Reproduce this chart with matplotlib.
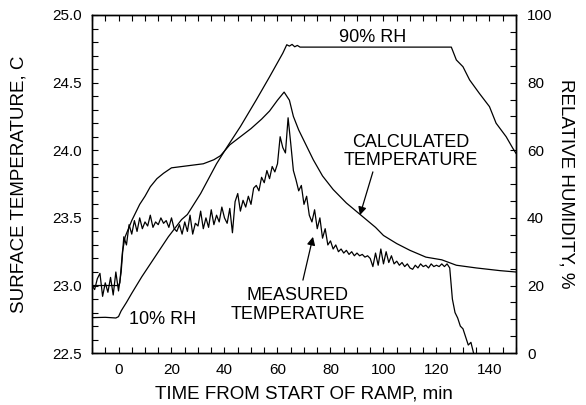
import numpy as np
import matplotlib
matplotlib.use('Agg')
import matplotlib.pyplot as plt
from matplotlib.ticker import MultipleLocator, FormatStrFormatter

plt.rcParams['font.family'] = ['Liberation Sans', 'DejaVu Sans']

# measured surface temperature, 1 min samples from -10 to 135 min
t_meas = np.arange(-10, 136)
T_meas = [23.00, 22.97, 23.05, 23.09, 22.92, 23.02, 22.95, 23.06, 22.93, 23.10, 22.96,
          23.10, 23.36, 23.30, 23.45, 23.38, 23.48, 23.40, 23.50, 23.42, 23.47,
          23.44, 23.52, 23.43, 23.47, 23.45, 23.50, 23.46, 23.48, 23.43, 23.50,
          23.42, 23.40, 23.45, 23.38, 23.47, 23.40, 23.52, 23.38, 23.46, 23.44,
          23.55, 23.42, 23.50, 23.43, 23.56, 23.45, 23.52, 23.47, 23.58, 23.50,
          23.46, 23.57, 23.39, 23.62, 23.68, 23.55, 23.63, 23.58, 23.66, 23.60,
          23.72, 23.74, 23.70, 23.80, 23.76, 23.85, 23.79, 23.88, 23.84, 23.90,
          24.10, 24.02, 23.98, 24.24, 24.05, 23.85, 23.78, 23.70, 23.74, 23.60,
          23.66, 23.52, 23.47, 23.56, 23.42, 23.50, 23.35, 23.42, 23.30, 23.33,
          23.27, 23.30, 23.25, 23.27, 23.24, 23.26, 23.23, 23.25, 23.22, 23.24,
          23.22, 23.23, 23.21, 23.22, 23.20, 23.14, 23.24, 23.15, 23.27, 23.16,
          23.25, 23.17, 23.22, 23.16, 23.18, 23.15, 23.17, 23.14, 23.16, 23.13,
          23.12, 23.15, 23.13, 23.16, 23.14, 23.15, 23.13, 23.16, 23.14, 23.15,
          23.14, 23.16, 23.14, 23.16, 23.13, 22.90, 22.80, 22.76, 22.70, 22.68,
          22.62, 22.56, 22.58, 22.50, 22.45]

# calculated surface temperature
t_calc = [-10, 0, 0.5, 1.5, 2.5, 5, 8, 10, 12, 14.5, 17, 20, 24, 28, 32, 36, 38.5,
          42, 46, 50, 54, 57, 60, 62.5, 64.5, 66, 68, 70, 73.5, 77, 81, 86, 91.5,
          97, 100, 105, 110, 116, 122, 127.5, 135, 144, 150]
T_calc = [23.00, 23.00, 23.02, 23.25, 23.36, 23.48, 23.60, 23.66, 23.73, 23.79,
          23.83, 23.87, 23.88, 23.89, 23.90, 23.93, 23.96, 24.04, 24.10, 24.16,
          24.23, 24.29, 24.37, 24.43, 24.37, 24.25, 24.15, 24.07, 23.93, 23.81,
          23.71, 23.61, 23.52, 23.43, 23.37, 23.31, 23.26, 23.21, 23.19, 23.15,
          23.13, 23.11, 23.10]

# relative humidity, %
t_rh = [-10, -5, -1, 0, 1, 3, 5, 8.8, 13.8, 18.8, 23.8, 26, 31, 37, 41, 46, 52, 57,
        62, 63.5, 64.5, 65.5, 66.5, 67.5, 68.5, 125.6, 127.5, 130, 132.5, 136.2,
        140, 142.5, 146.3, 148.8, 150]
rh = [10.5, 10.6, 10.4, 10.8, 12.5, 15.0, 17.7, 22.6, 28.5, 34.4, 39.5, 41.0, 47.2,
      56.0, 61.0, 67.0, 74.9, 81.7, 88.7, 91.2, 90.8, 91.3, 90.6, 91.0, 90.5, 90.5,
      86.7, 84.7, 80.8, 76.8, 72.9, 68.0, 64.0, 60.6, 59.1]

fig = plt.figure(figsize=(5.86, 4.05), dpi=100)
ax = fig.add_axes([0.157, 0.128, 0.7235, 0.835])
ax2 = ax.twinx()

ax.plot(t_meas, T_meas, color='black', lw=0.9)
ax.plot(t_calc, T_calc, color='black', lw=0.9)
ax2.plot(t_rh, rh, color='black', lw=0.9)

ax.set_xlim(-10, 150)
ax.set_ylim(22.5, 25.0)
ax2.set_ylim(0, 100)

ax.xaxis.set_major_locator(MultipleLocator(20))
ax.xaxis.set_minor_locator(MultipleLocator(5))
ax.yaxis.set_major_locator(MultipleLocator(0.5))
ax.yaxis.set_minor_locator(MultipleLocator(0.1))
ax.yaxis.set_major_formatter(FormatStrFormatter('%.1f'))
ax2.yaxis.set_major_locator(MultipleLocator(20))
ax2.yaxis.set_minor_locator(MultipleLocator(5))

ax.tick_params(which='both', direction='in', top=True, right=False, length=4, width=0.8, labelsize=11, pad=7)
ax2.tick_params(which='both', direction='in', length=4, width=0.8, labelsize=11, pad=8)
ax.xaxis.set_major_formatter(plt.FuncFormatter(lambda v, p: '' if v < 0 else '%d' % v))

for a in (ax, ax2):
    for s in a.spines.values():
        s.set_linewidth(1.0)

ax.set_xlabel('TIME FROM START OF RAMP, min', fontsize=13.5)
ax.set_ylabel('SURFACE TEMPERATURE, C', fontsize=13.5)
ax2.set_ylabel('RELATIVE HUMIDITY, %', fontsize=13.5, rotation=270, va='bottom')
ax.xaxis.set_label_coords(0.5, -0.095)
ax.yaxis.set_label_coords(-0.151, 0.5)
ax2.yaxis.set_label_coords(1.097, 0.5)

ax2.text(96, 93.3, '90% RH', fontsize=13, ha='center', va='center')
ax2.text(16.7, 10.1, '10% RH', fontsize=13, ha='center', va='center')
ax.text(110.3, 23.99, 'CALCULATED\nTEMPERATURE', fontsize=13, ha='center', va='center', linespacing=1.1)
ax.text(67.7, 22.855, 'MEASURED\nTEMPERATURE', fontsize=13, ha='center', va='center', linespacing=1.1)

arrow = dict(arrowstyle='-|>', color='black', lw=0.9, mutation_scale=12, shrinkA=0, shrinkB=0)
ax.annotate('', xy=(91.1, 23.52), xytext=(96.0, 23.84), arrowprops=arrow)
ax.annotate('', xy=(73.4, 23.36), xytext=(69.6, 23.04), arrowprops=arrow)

fig.savefig('out.png', dpi=100)
